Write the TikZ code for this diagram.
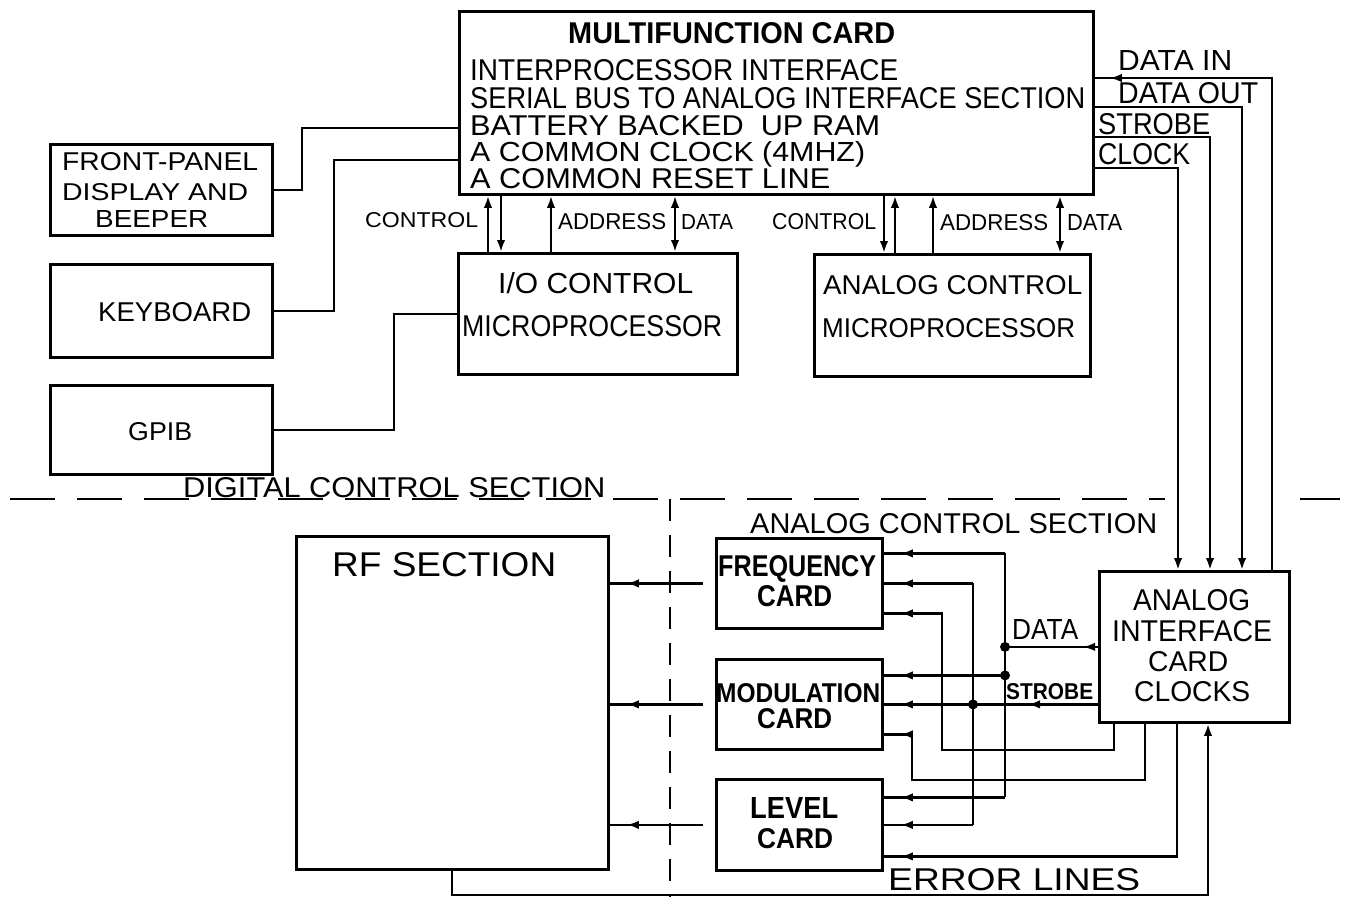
\documentclass[tikz,border=0pt]{standalone}
\usepackage{fontspec}
\usepackage{graphicx}
\setmainfont{Liberation Sans}
\usetikzlibrary{arrows.meta,decorations.markings,calc}
\newcommand{\T}[3]{\resizebox{#1pt}{#2pt}{\raisebox{0pt}[\height][0pt]{#3}}}
\tikzset{
  box/.style={draw, line width=2.8pt, inner sep=0pt, anchor=north west},
  txt/.style={inner sep=0pt, anchor=north west},
  wire/.style={line width=2.4pt},
  tip/.style={-{Latex[length=12pt,width=8.5pt]}},
  dtip/.style={{Latex[length=12pt,width=8.5pt]}-{Latex[length=12pt,width=8.5pt]}},
  pinarr/.style={postaction={decorate},decoration={markings,mark=at position #1 with {\arrow{Latex[length=12pt,width=8.5pt]}}}},
  pinarrs/.style 2 args={postaction={decorate},decoration={markings,
     mark=at position #1 with {\arrow{Latex[length=12pt,width=8.5pt]}},
     mark=at position #2 with {\arrow{Latex[length=12pt,width=8.5pt]}}}},
  sep/.style={line width=2.4pt},
}
\begin{document}
\begin{tikzpicture}[x=1pt,y=-1pt]
\fill[white] (0,0) rectangle (1349,902);
\useasboundingbox (0,0) rectangle (1349,902);

% ---------- boxes ----------
\node[box, minimum width=634pt, minimum height=183pt] (mf) at (458,10) {};
\node[box, minimum width=222pt, minimum height=91pt] (fp) at (49,143) {};
\node[box, minimum width=222pt, minimum height=93pt] (kb) at (49,263) {};
\node[box, minimum width=222pt, minimum height=89pt] (gpib) at (49,384) {};
\node[box, minimum width=279pt, minimum height=121pt] (io) at (457,252) {};
\node[box, minimum width=276pt, minimum height=122pt] (ac) at (813,253) {};
\node[box, minimum width=312pt, minimum height=333pt] (rf) at (295,535) {};
\node[box, minimum width=166pt, minimum height=90pt] (freq) at (715,537) {};
\node[box, minimum width=166pt, minimum height=90pt] (mod) at (715,658) {};
\node[box, minimum width=166pt, minimum height=91pt] (lev) at (715,778) {};
\node[box, minimum width=190pt, minimum height=151pt] (ai) at (1098,570) {};

% ---------- texts ----------
\node[txt] (t1) at (568,22) {\T{327}{21}{\textbf{MULTIFUNCTION CARD}}};
\node[txt] (t2) at (470,59) {\T{428}{21}{INTERPROCESSOR INTERFACE}};
\node[txt] (t3) at (470,87) {\T{615}{21}{SERIAL BUS TO ANALOG INTERFACE SECTION}};
\node[txt] (t4) at (470,115) {\T{410}{20}{BATTERY BACKED\ \ UP RAM}};
\node[txt] (t5) at (470,141) {\T{395}{20}{A COMMON CLOCK (4MHZ)}};
\node[txt] (t6) at (470,168) {\T{360}{20}{A COMMON RESET LINE}};
\node[txt] (t7) at (1118,50) {\T{114}{20}{DATA IN}};
\node[txt] (t8) at (1118,82) {\T{140}{21}{DATA OUT}};
\node[txt] (t9) at (1098,113) {\T{112}{21}{STROBE}};
\node[txt] (t10) at (1098,143) {\T{92}{21}{CLOCK}};
\node[txt] (t11) at (62,152) {\T{196}{18}{FRONT-PANEL}};
\node[txt] (t12) at (62,183) {\T{186}{17}{DISPLAY AND}};
\node[txt] (t13) at (95,210) {\T{113}{17}{BEEPER}};
\node[txt] (t14) at (98,302) {\T{153}{19}{KEYBOARD}};
\node[txt] (t15) at (128,422) {\T{64}{18}{GPIB}};
\node[txt] (t16) at (365,212) {\T{113}{15}{CONTROL}};
\node[txt] (t17) at (558,213) {\T{108}{16}{ADDRESS}};
\node[txt] (t18) at (681,214) {\T{52}{15}{DATA}};
\node[txt] (t19) at (772,213) {\T{104}{16}{CONTROL}};
\node[txt] (t20) at (940,214) {\T{108}{16}{ADDRESS}};
\node[txt] (t21) at (1067,214) {\T{55}{16}{DATA}};
\node[txt] (t22) at (498,272) {\T{195}{21}{I/O CONTROL}};
\node[txt] (t23) at (462,315) {\T{260}{21}{MICROPROCESSOR}};
\node[txt] (t24) at (823,275) {\T{259}{19}{ANALOG CONTROL}};
\node[txt] (t25) at (822,318) {\T{253}{19}{MICROPROCESSOR}};
\node[txt] (t26) at (183,477) {\T{422}{20}{DIGITAL CONTROL SECTION}};
\node[txt] (t27) at (750,513) {\T{407}{20}{ANALOG CONTROL SECTION}};
\node[txt] (t28) at (332,552) {\T{224}{24}{RF SECTION}};
\node[txt] (t29) at (718,555) {\T{158}{21}{\textbf{FREQUENCY}}};
\node[txt] (t30) at (757,585) {\T{75}{21}{\textbf{CARD}}};
\node[txt] (t31) at (716,683) {\T{164}{19}{\textbf{MODULATION}}};
\node[txt] (t32) at (757,708) {\T{75}{20}{\textbf{CARD}}};
\node[txt] (t33) at (750,797) {\T{88}{21}{\textbf{LEVEL}}};
\node[txt] (t34) at (757,828) {\T{76}{20}{\textbf{CARD}}};
\node[txt] (t35) at (1012,619) {\T{66}{20}{DATA}};
\node[txt] (t36) at (1006,683) {\T{87}{16}{\textbf{STROBE}}};
\node[txt] (t37) at (1133,589) {\T{117}{21}{ANALOG}};
\node[txt] (t38) at (1112,620) {\T{160}{21}{INTERFACE}};
\node[txt] (t39) at (1148,651) {\T{80}{20}{CARD}};
\node[txt] (t40) at (1134,681) {\T{116}{20}{CLOCKS}};
\node[txt] (t41) at (888,868) {\T{252}{22}{ERROR LINES}};

% ---------- section separators ----------
\draw[sep, dash pattern=on 45pt off 22pt] (10,499) -- (1165,499);
\draw[sep] (1300,499) -- (1340,499);
\draw[sep, dash pattern=on 22pt off 14pt] (670,499) -- (670,897);

% ---------- left peripherals ----------
\coordinate (k1) at (302,128);
\coordinate (k2) at (334,160);
\coordinate (k3) at (394,0);
\draw[wire] (fp.east) -| (k1) -- (k1 -| mf.west);
\draw[wire] (kb.east) -| (k2) -- (k2 -| mf.west);
\draw[wire] (gpib.east) -- (gpib.east -| k3) |- (io.west);

% ---------- I/O control microprocessor buses ----------
\coordinate (c1) at (488,0);
\coordinate (c2) at (501,0);
\coordinate (c3) at (551,0);
\coordinate (c4) at (675,0);
\draw[wire,tip] (io.north -| c1) -- (mf.south -| c1);
\draw[wire,tip] (mf.south -| c2) -- (io.north -| c2);
\draw[wire,tip] (io.north -| c3) -- (mf.south -| c3);
\draw[wire,dtip] (mf.south -| c4) -- (io.north -| c4);

% ---------- analog control microprocessor buses ----------
\coordinate (a1) at (884,0);
\coordinate (a2) at (895,0);
\coordinate (a3) at (933,0);
\coordinate (a4) at (1060,0);
\draw[wire,tip] (mf.south -| a1) -- (ac.north -| a1);
\draw[wire,tip] (ac.north -| a2) -- (mf.south -| a2);
\draw[wire,tip] (ac.north -| a3) -- (mf.south -| a3);
\draw[wire,dtip] (mf.south -| a4) -- (ac.north -| a4);

% ---------- serial bus ----------
\coordinate (din) at (1272,78);
\coordinate (dout) at (1242,107);
\coordinate (dstr) at (1210,137);
\coordinate (dclk) at (1178,168);
\draw[wire,pinarr=-15pt] (ai.north -| din) -- (din) -- (din -| mf.east);
\draw[wire,tip] (dout -| mf.east) -- (dout) -- (ai.north -| dout);
\draw[wire,tip] (dstr -| mf.east) -- (dstr) -- (ai.north -| dstr);
\draw[wire,tip] (dclk -| mf.east) -- (dclk) -- (ai.north -| dclk);

% ---------- card pins ----------
\coordinate (f1) at ([yshift=30pt]freq.east);
\coordinate (f2) at (freq.east);
\coordinate (f3) at ([yshift=-30pt]freq.east);
\coordinate (m1) at ([yshift=29pt]mod.east);
\coordinate (m2) at (mod.east);
\coordinate (m3) at ([yshift=-30pt]mod.east);
\coordinate (l1) at ([yshift=27.5pt]lev.east);
\coordinate (l2) at (lev.east);
\coordinate (l3) at ([yshift=-31.5pt]lev.east);
\coordinate (xD) at (1005,0);
\coordinate (xS) at (973,0);
\coordinate (xF) at (942,0);
\coordinate (xM) at (912,0);
\coordinate (b1) at (1114,750);
\coordinate (b2) at (1145,780);
\coordinate (b3) at (1177,0);
\coordinate (e1) at (452,895);
\coordinate (e2) at (1208,895);

% DATA bus
\draw[wire,pinarr=-17pt] (f1 -| xD) -- (f1);
\draw[wire] (f1 -| xD) -- (l1 -| xD);
\draw[wire,pinarr=-17pt] (m1 -| xD) -- (m1);
\draw[wire,pinarr=-17pt] (l1 -| xD) -- (l1);
\draw[wire,pinarr=15pt] (ai.west) -- (ai.west -| xD);
\fill (ai.west -| xD) circle (5pt);
\fill (m1 -| xD) circle (5pt);

% STROBE bus
\draw[wire,pinarr=-17pt] (f2 -| xS) -- (f2);
\draw[wire] (f2 -| xS) -- (l2 -| xS);
\draw[wire,pinarr=-17pt] (l2 -| xS) -- (l2);
\draw[wire,pinarrs={70pt}{-17pt}] (m2 -| ai.west) -- (m2);
\fill (m2 -| xS) circle (5pt);

% clock lines from AI bottom
\draw[wire,pinarr=-17pt] (ai.south -| b1) -- (b1) -- (b1 -| xF) -- (f3 -| xF) -- (f3);
\draw[wire,pinarr=-17pt] (ai.south -| b2) -- (b2) -- (b2 -| xM) -- (m3 -| xM) -- (m3);
\draw[wire,pinarr=-17pt] (ai.south -| b3) |- (l3);

% error lines
\draw[wire,tip] (rf.south -| e1) -- (e1) -- (e2) -- (ai.south -| e2);

% cards to RF section
\draw[wire,pinarr=-17pt,shorten <=12pt] (freq.west) -- (freq.west -| rf.east);
\draw[wire,pinarr=-17pt,shorten <=12pt] (mod.west) -- (mod.west -| rf.east);
\draw[wire,pinarr=-17pt,shorten <=12pt] (lev.west) -- (lev.west -| rf.east);
\end{tikzpicture}
\end{document}
